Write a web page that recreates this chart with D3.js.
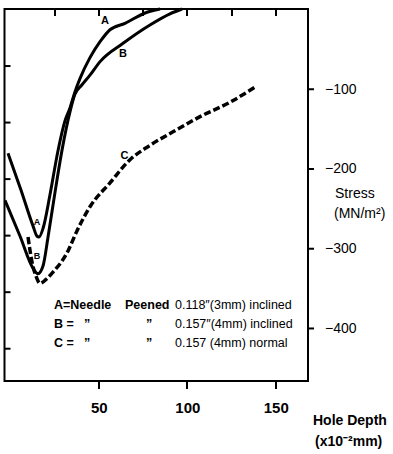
<!DOCTYPE html>
<html><head><meta charset="utf-8">
<script src="https://cdn.jsdelivr.net/npm/d3@7/dist/d3.min.js"></script>
<style>
html,body{margin:0;padding:0;background:#fff;}
svg{display:block;font-family:"Liberation Sans",Arial,sans-serif;}
</style></head>
<body>
<svg id="c" width="393" height="454"></svg>
<script>
// ---- data (depth in 1e-2 mm, stress in MN/m^2) ----
const depthA  = [-1.3, 6.0, 12.8, 15.1, 16.2, 18.5, 22.4, 26.9, 30.9, 33.7, 36.5, 39.4, 45.0, 50.7, 56.3, 64.8, 76.1, 84.6];
const stressA = [-181, -227, -272, -285, -286, -275, -233, -178, -140, -124, -104, -87, -61, -41, -26, -18, -5, 0];
const depthB  = [-3.0, 5.5, 12.8, 15.6, 18.5, 21.3, 25.3, 29.2, 33.7, 36.5, 40.5, 45.0, 50.7, 63.7, 78.9, 90.2, 97.0];
const stressB = [-240, -285, -325, -332, -322, -286, -229, -177, -129, -107, -95, -83, -66, -43, -20, -6, 0];
const depthC  = [10.0, 12.3, 14.5, 16.8, 20.2, 24.1, 32.0, 37.7, 45.0, 56.3, 67.6, 78.9, 91.9, 107.2, 124.1, 138.2];
const stressC = [-286, -318, -335, -344, -339, -330, -306, -278, -248, -218, -189, -171, -154, -135, -117, -98];

const xTicksBottom = [50, 100, 150];
const xTicksTop = [25, 50, 75, 100, 125, 150];
const yTicksRight = [-100, -200, -300, -400];
const yTicksLeft = [-10, -20, -30, -40, -50, -60];
const legendKey = ["A=Needle", "B =", "C ="];
const legendMid1 = ["Peened", "\u201D", "\u201D"];
const legendMid0 = ["", "\u201D", "\u201D"];
const legendSpec = ["0.118\u2033(3mm) inclined", "0.157\u2033(4mm) inclined", "0.157 (4mm) normal"];

// ---- layout ----
const L = 4.5, R = 308, T = 9, B = 381;
const svg = d3.select("#c");
const x = d3.scaleLinear().domain([-3.3, 168.2]).range([L, R]);
const y = d3.scaleLinear().domain([0, -466.5]).range([T, B]);
const yLeft = d3.scaleLinear().domain([0, -65.8]).range([T, B]);

// frame
svg.append("rect").attr("x", L).attr("y", T).attr("width", R - L).attr("height", B - T)
  .attr("fill", "none").attr("stroke", "#000").attr("stroke-width", 2);

function cleanAxis(g) {
  g.select(".domain").remove();
  g.selectAll(".tick line").attr("stroke", "#000").attr("stroke-width", 2);
}

// top ticks (inward)
svg.append("g").selectAll("rect").data(xTicksTop).join("rect")
  .attr("x", d => Math.round(x(d)) - 1).attr("y", T).attr("width", 2).attr("height", 7)
  .attr("fill", "#000");
// bottom ticks (outward) + labels
svg.append("g").selectAll("rect").data(xTicksBottom).join("rect")
  .attr("x", d => Math.round(x(d)) - 1).attr("y", B).attr("width", 2).attr("height", 8)
  .attr("fill", "#000");
const gb = svg.append("g").attr("transform", `translate(0,${B})`)
  .call(d3.axisBottom(x).tickValues(xTicksBottom).tickSize(0).tickFormat(d3.format("d")))
  .call(cleanAxis);
gb.selectAll(".tick text").attr("y", 32).attr("dy", 0).attr("font-size", 15)
  .attr("font-weight", "bold").attr("font-family", "Liberation Sans, Arial, sans-serif").attr("fill", "#000");
// left ticks (inward, unlabeled)
svg.append("g").attr("transform", `translate(${L},0)`)
  .call(d3.axisRight(yLeft).tickValues(yTicksLeft).tickSize(6).tickFormat(""))
  .call(cleanAxis);
// right ticks (outward) + labels
const gr = svg.append("g").attr("transform", `translate(${R},0)`)
  .call(d3.axisRight(y).tickValues(yTicksRight).tickSize(6).tickFormat(d => "\u2212" + Math.abs(d)))
  .call(cleanAxis);
gr.selectAll(".tick text").attr("x", 17).attr("font-size", 14)
  .attr("font-family", "Liberation Sans, Arial, sans-serif").attr("fill", "#000");

// curves
const line = d3.line().x(d => x(d[0])).y(d => y(d[1])).curve(d3.curveMonotoneX);
const ptsA = depthA.map((d, i) => [d, stressA[i]]);
const ptsB = depthB.map((d, i) => [d, stressB[i]]);
const ptsC = depthC.map((d, i) => [d, stressC[i]]);
const plot = svg.append("g");
plot.append("path").datum(ptsA).attr("d", line).attr("fill", "none").attr("stroke", "#000").attr("stroke-width", 3);
plot.append("path").datum(ptsB).attr("d", line).attr("fill", "none").attr("stroke", "#000").attr("stroke-width", 3);
plot.append("path").datum(ptsC).attr("d", line).attr("fill", "none").attr("stroke", "#000")
  .attr("stroke-width", 3.5).attr("stroke-dasharray", "7,3");

// curve labels
const lab = (t, px, py, fs) => svg.append("text").attr("x", px).attr("y", py).attr("font-size", fs)
  .attr("font-weight", "bold").attr("text-anchor", "middle").text(t);
lab("A", x(53.5), y(-19), 11);
lab("B", x(63.7), y(-60), 11);
lab("C", x(64.5), y(-188), 11);
lab("A", x(15.1), y(-271), 9);
lab("B", x(15.1), y(-313), 9);

// legend
const rowsY = [309, 328, 347];
legendKey.forEach((k, i) => {
  svg.append("text").attr("x", 54).attr("y", rowsY[i]).attr("font-size", 12.5).attr("font-weight", "bold").text(k);
  if (i === 0) {
    svg.append("text").attr("x", 125).attr("y", rowsY[i]).attr("font-size", 12.5).attr("font-weight", "bold").text(legendMid1[i]);
  } else {
    svg.append("text").attr("x", 84).attr("y", rowsY[i]).attr("font-size", 12.5).attr("font-weight", "bold").text(legendMid0[i]);
    svg.append("text").attr("x", 146).attr("y", rowsY[i]).attr("font-size", 12.5).attr("font-weight", "bold").text(legendMid1[i]);
  }
  svg.append("text").attr("x", 175).attr("y", rowsY[i]).attr("font-size", 12.5).text(legendSpec[i]);
});

// axis titles
svg.append("text").attr("x", 335).attr("y", 198).attr("font-size", 14).text("Stress");
svg.append("text").attr("x", 334).attr("y", 218).attr("font-size", 14).text("(MN/m\u00B2)");
svg.append("text").attr("x", 313).attr("y", 425).attr("font-size", 14).attr("font-weight", "bold").text("Hole Depth");
svg.append("text").attr("x", 315).attr("y", 446).attr("font-size", 14).attr("font-weight", "bold").text("(x10\u207B\u00B2mm)");
</script>
</body></html>
